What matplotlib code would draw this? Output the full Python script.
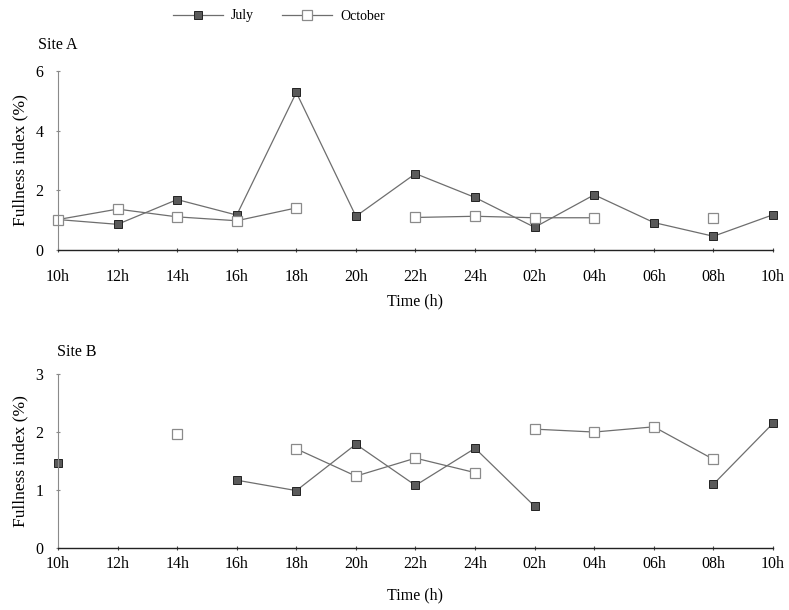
import numpy as np
import matplotlib
matplotlib.use('Agg')
import matplotlib.pyplot as plt

# time axis labels (13 sampling times)
TIMES = ['10h', '12h', '14h', '16h', '18h', '20h', '22h',
         '24h', '02h', '04h', '06h', '08h', '10h']
NAN = np.nan

# site A fullness index (%), NaN = no sample
JULY_A = [1.02, 0.86, 1.69, 1.17, 5.28, 1.13, 2.56,
          1.76, 0.76, 1.85, 0.92, 0.46, 1.18]
OCT_A = [1.02, 1.37, 1.11, 0.98, 1.41, NAN, 1.09,
         1.13, 1.08, 1.08, NAN, 1.08, NAN]

# site B fullness index (%)
JULY_B = [1.47, NAN, NAN, 1.17, 0.99, 1.79, 1.08,
          1.72, 0.72, NAN, NAN, 1.10, 2.15]
OCT_B = [NAN, NAN, 1.96, NAN, 1.71, 1.24, 1.55,
         1.30, 2.05, 2.00, 2.09, 1.53, NAN]
# no line drawn into these indices for October site B
OCT_B_BREAKS = [8]

plt.rcParams['font.family'] = ['Liberation Serif', 'DejaVu Serif']

LINE_COL = '#6e6e6e'
JULY_STYLE = dict(color=LINE_COL, lw=0.9, marker='s', markersize=5.2,
                  markerfacecolor='#5a5a5a', markeredgecolor='#222222',
                  markeredgewidth=0.7)
OCT_STYLE = dict(color=LINE_COL, lw=0.9, marker='s', markersize=7.8,
                 markerfacecolor='white', markeredgecolor='#8a8a8a',
                 markeredgewidth=0.9)


def plot_series(ax, values, style, breaks=(), label=None):
    vals = np.array(values, dtype=float)
    x = np.arange(len(vals))
    # split into runs at the break indices
    starts = [0] + list(breaks)
    ends = list(breaks) + [len(vals)]
    line = None
    for s, e in zip(starts, ends):
        l, = ax.plot(x[s:e], vals[s:e], label=label, **style)
        if line is None:
            line = l
    return line


def style_axes(ax, ymax, yticks, labelpad_x):
    ax.set_xlim(0, len(TIMES) - 1)
    ax.set_ylim(0, ymax)
    ax.set_xticks(np.arange(len(TIMES)))
    ax.set_xticklabels(TIMES, fontsize=11.5)
    ax.set_yticks(yticks)
    ax.set_yticklabels([str(t) for t in yticks], fontsize=11.5)
    for s in ['top', 'right']:
        ax.spines[s].set_visible(False)
    ax.spines['bottom'].set_color('#222222')
    ax.spines['left'].set_color('#8a8a8a')
    ax.spines['bottom'].set_linewidth(1.0)
    ax.spines['left'].set_linewidth(0.8)
    ax.tick_params(axis='x', direction='inout', length=3, width=0.8,
                   pad=labelpad_x, color='#444444')
    ax.tick_params(axis='y', direction='inout', length=3, width=0.8,
                   pad=9, color='#888888')
    ax.set_ylabel('Fullness index (%)', fontsize=12.5, labelpad=5)
    ax.patch.set_alpha(0)


fig = plt.figure(figsize=(7.89, 6.10), dpi=100)

ax_a = fig.add_axes([0.0735, 0.5902, 0.9062, 0.2934])
l_july = plot_series(ax_a, JULY_A, JULY_STYLE, label='July')
l_oct = plot_series(ax_a, OCT_A, OCT_STYLE, label='October')
style_axes(ax_a, 6, [0, 2, 4, 6], 12)
ax_a.set_xlabel('Time (h)', fontsize=11.5, labelpad=6)
fig.text(38 / 789, 1 - 45 / 610, 'Site A', fontsize=11.5, va='center')

ax_b = fig.add_axes([0.0735, 0.1016, 0.9062, 0.2852])
plot_series(ax_b, JULY_B, JULY_STYLE)
plot_series(ax_b, OCT_B, OCT_STYLE, breaks=OCT_B_BREAKS)
style_axes(ax_b, 3, [0, 1, 2, 3], 4)
ax_b.set_xlabel('Time (h)', fontsize=11.5, labelpad=11)
fig.text(57 / 789, 1 - 352 / 610, 'Site B', fontsize=11.5, va='center')

for ax in (ax_a, ax_b):
    for ln in ax.lines:
        ln.set_clip_on(False)

fig.legend(handles=[l_july, l_oct], loc='center', ncol=2,
           bbox_to_anchor=(279 / 789, 1 - 16 / 610), frameon=False,
           fontsize=10, handlelength=3.6, handletextpad=0.6,
           columnspacing=2.0, numpoints=1)

fig.savefig('out.png', dpi=100)
